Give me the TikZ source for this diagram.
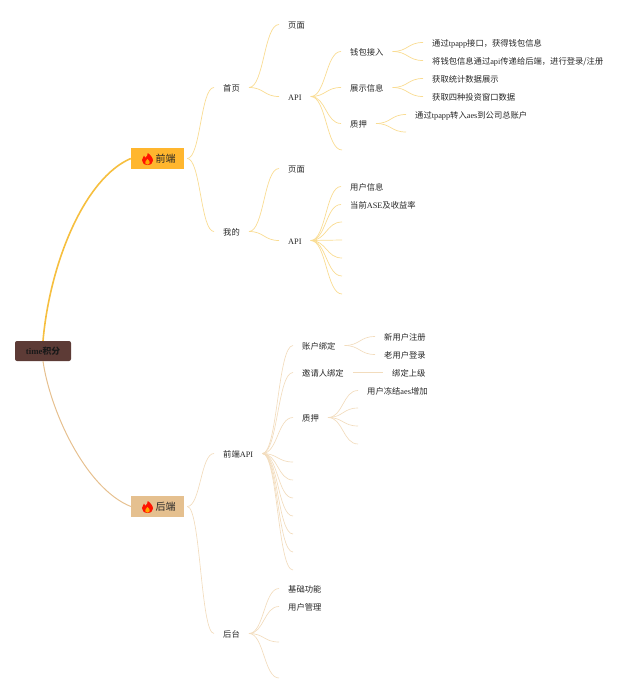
\documentclass[tikz,border=0pt]{standalone}
\usepackage{fontspec}
\setmainfont{Noto Sans CJK SC}
\newfontfamily\latfont{Liberation Serif}
\newcommand{\lat}[1]{{\latfont #1}}
\usetikzlibrary{calc}
\definecolor{gold}{HTML}{F6BF3F}
\definecolor{tan}{HTML}{E6C08F}
\definecolor{goldline}{HTML}{F9DC92}
\definecolor{tanline}{HTML}{F2DCBD}
\definecolor{rootfill}{HTML}{5D3B36}
\definecolor{boxgold}{HTML}{FFB62E}
\definecolor{boxtan}{HTML}{E5C08F}
\definecolor{inktext}{HTML}{262626}
\tikzset{
  item/.style={anchor=west,inner xsep=9pt,inner ysep=0pt,text height=8pt,text depth=0.2pt,font=\fontsize{8.3}{10}\selectfont,text=inktext},
  rootbox/.style={fill=rootfill,rounded corners=2pt,minimum width=56pt,minimum height=20pt,inner sep=0pt,font=\fontsize{8.8}{10}\selectfont\bfseries,text=black!90},
  topbox/.style={minimum width=53pt,minimum height=21pt,inner sep=0pt,font=\fontsize{10}{11}\selectfont,text=inktext},
  sfork/.style={to path={let \p1=(\tikztostart),\p2=(\tikztotarget) in .. controls ({0.5*\x1+0.5*\x2},\y1) and ({0.5*\x1+0.5*\x2},\y2) .. (\tikztotarget)}},
  gl/.style={draw=goldline,line width=.7pt,sfork},
  tl/.style={draw=tanline,line width=.65pt,sfork},
  flame/.pic={
    \fill[red!85!orange] (0,6) .. controls (-3.6,6) and (-5.6,3.6) .. (-5.5,1) .. controls (-5.4,-1) and (-4,-1.5) .. (-3.6,-3.4) .. controls (-2.6,-2.8) and (-2.2,-2) .. (-2.1,-1.2) .. controls (-0.6,-2.6) and (0.4,-4.2) .. (0.2,-6) .. controls (2.6,-4.4) and (5.6,-1.2) .. (5.5,1.6) .. controls (5.4,4) and (3.4,6) .. (0,6) -- cycle;
    \fill[orange!70!yellow] (0,5.6) .. controls (-1.8,5.6) and (-2.6,4.2) .. (-2.2,3) .. controls (-1.8,1.8) and (-0.6,1.4) .. (-0.2,0) .. controls (1.2,1) and (2.4,2.4) .. (2.2,3.6) .. controls (2.1,4.8) and (1.2,5.6) .. (0,5.6) -- cycle;
  }
}
\begin{document}
\begin{tikzpicture}[x=1pt,y=-1pt]
\useasboundingbox (0,0) rectangle (640,693);
% boxes
\node[rootbox] (root) at (43,351) {\raisebox{-.6pt}{\lat{time}积分}};
\node[topbox,fill=boxgold] (fe) at (157.5,158.5) {\hspace*{16pt}\raisebox{-2pt}{前端}};
\node[topbox,fill=boxtan] (be) at (157.5,506.5) {\hspace*{16pt}\raisebox{-2pt}{后端}};
\pic at ($(fe.center)+(-10,0.5)$) {flame};
\pic at ($(be.center)+(-10,0.5)$) {flame};
% front end
\node[item] (home) at (214,87.5) {首页};
\node[item] (mine) at (214,231.5) {我的};
\node[item] (hpage) at (279,24.5) {页面};
\node[item] (hapi) at (279,96.5) {\lat{API}};
\node[item] (wallet) at (341,51.5) {钱包接入};
\node[item] (show) at (341,87.5) {展示信息};
\node[item] (stake) at (341,123.5) {质押};
\coordinate (hempty) at (342,150);
\node[item] (w1) at (423,42.5) {通过\lat{tpapp}接口，获得钱包信息};
\node[item] (w2) at (423,60.5) {将钱包信息通过\lat{api}传递给后端，进行登录/注册};
\node[item] (s1) at (423,78.5) {获取统计数据展示};
\node[item] (s2) at (423,96.5) {获取四种投资窗口数据};
\node[item] (t1) at (406,114.5) {通过\lat{tpapp}转入\lat{aes}到公司总账户};
\coordinate (t2) at (406,132);
\node[item] (mpage) at (279,168.5) {页面};
\node[item] (mapi) at (279,240.5) {\lat{API}};
\node[item] (m1) at (341,186.5) {用户信息};
\node[item] (m2) at (341,204.5) {当前\lat{ASE}及收益率};
\coordinate (m3) at (342,222);
\coordinate (m4) at (342,240);
\coordinate (m5) at (342,258);
\coordinate (m6) at (342,276);
\coordinate (m7) at (342,294);
% back end
\node[item] (bapi) at (214,453.5) {前端\lat{API}};
\node[item] (admin) at (214,633.5) {后台};
\node[item] (acct) at (293,345.5) {账户绑定};
\node[item] (inv) at (293,372.5) {邀请人绑定};
\node[item] (bstake) at (293,417.5) {质押};
\coordinate (b4) at (293,462);
\coordinate (b5) at (293,480);
\coordinate (b6) at (293,498);
\coordinate (b7) at (293,516);
\coordinate (b8) at (293,534);
\coordinate (b9) at (293,552);
\coordinate (b10) at (293,570);
\node[item] (a1) at (375,336.5) {新用户注册};
\node[item] (a2) at (375,354.5) {老用户登录};
\node[item] (i1) at (383,372.5) {绑定上级};
\node[item] (bs1) at (358,390.5) {用户冻结\lat{aes}增加};
\coordinate (bs2) at (358,408);
\coordinate (bs3) at (358,426);
\coordinate (bs4) at (358,444);
\node[item] (ad1) at (279,588.5) {基础功能};
\node[item] (ad2) at (279,606.5) {用户管理};
\coordinate (ad3) at (279,642);
\coordinate (ad4) at (279,678);
% main branches
\draw[draw=gold,line width=1.6pt] (root.north) .. controls (50,262) and (85,178) .. (fe.west);
\draw[draw=tan,line width=1pt] (root.south) .. controls (50,410) and (85,488) .. (be.west);
% gold forks
\foreach \c in {home,mine} \draw[gl] ($(fe.east)+(3,0)$) to (\c.west);
\foreach \c in {hpage,hapi} \draw[gl] (home.east) to (\c.west);
\foreach \c in {wallet,show,stake} \draw[gl] (hapi.east) to (\c.west);
\draw[gl] (hapi.east) to (hempty);
\foreach \c in {w1,w2} \draw[gl] (wallet.east) to (\c.west);
\foreach \c in {s1,s2} \draw[gl] (show.east) to (\c.west);
\draw[gl] (stake.east) to (t1.west);
\draw[gl] (stake.east) to (t2);
\foreach \c in {mpage,mapi} \draw[gl] (mine.east) to (\c.west);
\foreach \c in {m1,m2} \draw[gl] (mapi.east) to (\c.west);
\foreach \c in {m3,m4,m5,m6,m7} \draw[gl] (mapi.east) to (\c);
% tan forks
\foreach \c in {bapi,admin} \draw[tl] ($(be.east)+(3,0)$) to (\c.west);
\foreach \c in {acct,inv,bstake} \draw[tl] (bapi.east) to (\c.west);
\foreach \c in {b4,b5,b6,b7,b8,b9,b10} \draw[tl] (bapi.east) to (\c);
\foreach \c in {a1,a2} \draw[tl] (acct.east) to (\c.west);
\draw[tl] (inv.east) to (i1.west);
\draw[tl] (bstake.east) to (bs1.west);
\foreach \c in {bs2,bs3,bs4} \draw[tl] (bstake.east) to (\c);
\foreach \c in {ad1,ad2} \draw[tl] (admin.east) to (\c.west);
\foreach \c in {ad3,ad4} \draw[tl] (admin.east) to (\c);
\end{tikzpicture}
\end{document}
